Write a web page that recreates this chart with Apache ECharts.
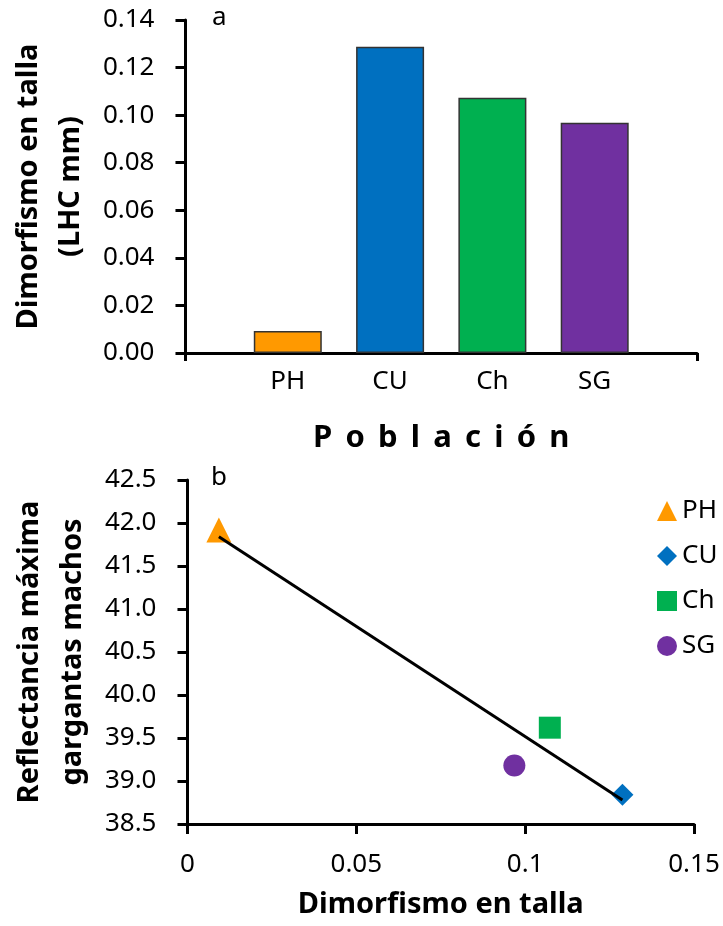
<!DOCTYPE html>
<html lang="es">
<head>
  <meta charset="utf-8">
  <title>dimorfismo-reflectancia</title>
  <script src="https://cdn.jsdelivr.net/npm/echarts@6/dist/echarts.min.js"></script>
</head>
<body style="margin: 0">
  <div id="container" style="width: 723px; height: 926px"></div>
  <script type="text/javascript">
    // datos
    const poblaciones = ['PH', 'CU', 'Ch', 'SG'];
    const dimorfismo = [0.0093, 0.1288, 0.1073, 0.0968];
    const reflectancia = [41.92, 38.84, 39.62, 39.18];
    const colores = ['#FF9900', '#0070C0', '#00B050', '#7030A0'];
    const simbolos = ['triangle', 'diamond', 'rect', 'circle'];
    const tamanos = [25, 22, 22, 22];
    // linea de tendencia (extremos)
    const tendenciaX = [0.0093, 0.1288];
    const tendenciaY = [41.84, 38.78];

    var dom = document.getElementById('container');
    var myChart = echarts.init(dom, null, { renderer: 'canvas' });

    const font = 'Noto Sans';
    const eje = { lineStyle: { color: '#000', width: 3 } };
    const marca = { show: true, length: 10, lineStyle: { color: '#000', width: 3 } };
    const etiqueta = { color: '#000', fontSize: 26, fontFamily: font };

    // categorias con huecos a los lados
    const categorias = [''].concat(poblaciones, ['']);
    const barras = [null].concat(
      dimorfismo.map(function (v, i) {
        return { value: v, itemStyle: { color: colores[i] } };
      }),
      [null]
    );

    const dispersion = poblaciones.map(function (p, i) {
      return {
        name: p,
        type: 'scatter',
        xAxisIndex: 1,
        yAxisIndex: 1,
        symbol: simbolos[i],
        symbolSize: tamanos[i],
        itemStyle: { color: colores[i], opacity: 1 },
        data: [[dimorfismo[i], reflectancia[i]]]
      };
    });

    var option = {
      animation: false,
      textStyle: { fontFamily: font },
      grid: [
        { left: 180, right: 26, top: 20, height: 333 },
        { left: 180, right: 29, top: 480, height: 344 }
      ],
      legend: {
        orient: 'vertical',
        left: 652,
        top: 493,
        itemWidth: 20,
        itemHeight: 20,
        itemGap: 19,
        data: poblaciones,
        textStyle: { color: '#000', fontSize: 26, lineHeight: 26, fontFamily: font }
      },
      xAxis: [
        {
          type: 'category',
          gridIndex: 0,
          data: categorias,
          boundaryGap: false,
          axisLine: eje,
          axisTick: {
            show: true,
            length: 8,
            lineStyle: { color: '#000', width: 3 },
            interval: function (i) { return i === 0 || i === categorias.length - 1; }
          },
          axisLabel: Object.assign({ margin: 16 }, etiqueta),
          name: 'P\u2009 o\u2009 b\u2009 l\u2009 a\u2009 c\u2009 i\u2009 ó\u2009 n',
          nameLocation: 'middle',
          nameGap: 70,
          nameTextStyle: { color: '#000', fontSize: 31, fontWeight: 'bold', fontFamily: font }
        },
        {
          type: 'value',
          gridIndex: 1,
          min: 0,
          max: 0.15,
          interval: 0.05,
          axisLine: eje,
          axisTick: marca,
          splitLine: { show: false },
          axisLabel: Object.assign({ margin: 28 }, etiqueta),
          name: 'Dimorfismo en talla',
          nameLocation: 'middle',
          nameGap: 66,
          nameTextStyle: { color: '#000', fontSize: 29, fontWeight: 'bold', fontFamily: font }
        }
      ],
      yAxis: [
        {
          type: 'value',
          gridIndex: 0,
          min: 0,
          max: 0.14,
          interval: 0.02,
          axisLine: { show: true, lineStyle: { color: '#000', width: 3 } },
          axisTick: marca,
          splitLine: { show: false },
          axisLabel: Object.assign({ margin: 31, formatter: function (v) { return v.toFixed(2); } }, etiqueta),
          name: 'Dimorfismo en talla\n(LHC mm)',
          nameLocation: 'middle',
          nameRotate: 90,
          nameGap: 93,
          nameTextStyle: { color: '#000', fontSize: 29, fontWeight: 'bold', fontFamily: font, lineHeight: 42 }
        },
        {
          type: 'value',
          gridIndex: 1,
          min: 38.5,
          max: 42.5,
          interval: 0.5,
          axisLine: { show: true, lineStyle: { color: '#000', width: 3 } },
          axisTick: marca,
          splitLine: { show: false },
          axisLabel: Object.assign({ margin: 31, formatter: function (v) { return v.toFixed(1); } }, etiqueta),
          name: 'Reflectancia máxima\ngargantas machos',
          nameLocation: 'middle',
          nameRotate: 90,
          nameGap: 93,
          nameTextStyle: { color: '#000', fontSize: 29, fontWeight: 'bold', fontFamily: font, lineHeight: 43 }
        }
      ],
      graphic: [
        { type: 'text', left: 212, top: 5, style: { text: 'a', fontSize: 26, fontFamily: font, fill: '#000' } },
        { type: 'text', left: 211, top: 465, style: { text: 'b', fontSize: 26, fontFamily: font, fill: '#000' } }
      ],
      series: [
        {
          type: 'bar',
          xAxisIndex: 0,
          yAxisIndex: 0,
          barWidth: 68,
          itemStyle: { borderColor: '#333', borderWidth: 1.5 },
          data: barras
        }
      ].concat(dispersion, [
        {
          type: 'line',
          xAxisIndex: 1,
          yAxisIndex: 1,
          symbol: 'none',
          lineStyle: { color: '#000', width: 3 },
          data: tendenciaX.map(function (x, i) { return [x, tendenciaY[i]]; })
        }
      ])
    };

    myChart.setOption(option);
    window.addEventListener('resize', myChart.resize);
  </script>
</body>
</html>
